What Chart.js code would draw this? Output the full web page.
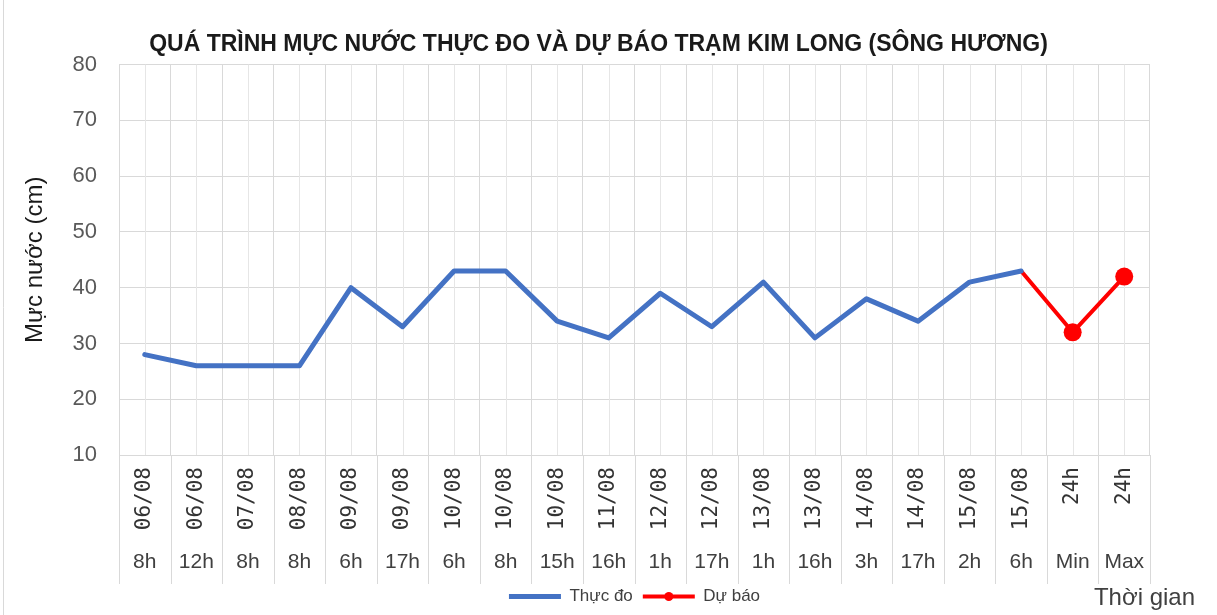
<!DOCTYPE html>
<html lang="vi">
<head>
<meta charset="utf-8">
<title>Mực nước trạm Kim Long</title>
<script src="https://cdn.jsdelivr.net/npm/chart.js@4.4.1/dist/chart.umd.min.js"></script>
<style>
    html, body { margin: 0; padding: 0; background: #ffffff; }
    #wrap { position: relative; width: 1217px; height: 615px; }
</style>
</head>
<body>
<div id="wrap"><canvas id="level-chart"></canvas></div>
<script>
// Chart data
const dates = ['06/08', '06/08', '07/08', '08/08', '09/08', '09/08', '10/08', '10/08', '10/08', '11/08',
               '12/08', '12/08', '13/08', '13/08', '14/08', '14/08', '15/08', '15/08', '24h', '24h'];
const hours = ['8h', '12h', '8h', '8h', '6h', '17h', '6h', '8h', '15h', '16h',
               '1h', '17h', '1h', '16h', '3h', '17h', '2h', '6h', 'Min', 'Max'];
const observed = [28, 26, 26, 26, 40, 33, 43, 43, 34, 31, 39, 33, 41, 31, 38, 34, 41, 43, null, null];
const forecast = [null, null, null, null, null, null, null, null, null, null,
                  null, null, null, null, null, null, null, 43, 32, 42];
const yMin = 10;
const yMax = 80;
const yStep = 10;

const GRID = '#d9d9d9';
const TEXT = '#595959';

/**
 * Extra drawing: centre grid lines, label separators, legend dot, axis caption
 */
const excelLook = {
    id: 'excelLook',
    beforeDatasetsDraw(chart) {
        const ctx = chart.ctx;
        const x = chart.scales.x;
        const area = chart.chartArea;
        ctx.save();
        ctx.strokeStyle = '#e6e6e6';
        ctx.lineWidth = 1;
        dates.forEach((d, i) => {
            const px = Math.round(x.getPixelForValue(i)) + 0.5;
            ctx.beginPath();
            ctx.moveTo(px, area.top);
            ctx.lineTo(px, area.bottom);
            ctx.stroke();
        });
        ctx.restore();
    },
    afterDraw(chart) {
        const ctx = chart.ctx;
        const x = chart.scales.x;
        const x2 = chart.scales.x2;
        const area = chart.chartArea;
        const half = (x.getPixelForValue(1) - x.getPixelForValue(0)) / 2;

        ctx.save();
        // separators between the category labels
        ctx.strokeStyle = GRID;
        ctx.lineWidth = 1;
        for (let i = 0; i <= dates.length; i++) {
            const px = Math.round(x.getPixelForValue(i) - half) + 0.5;
            ctx.beginPath();
            ctx.moveTo(px, area.bottom);
            ctx.lineTo(px, x2.bottom + 6);
            ctx.stroke();
        }

        // frame line on the left
        ctx.beginPath();
        ctx.moveTo(3.5, 0);
        ctx.lineTo(3.5, chart.height);
        ctx.stroke();

        // marker on the forecast legend line
        const boxes = chart.legend.legendHitBoxes;
        if (boxes && boxes[1]) {
            const b = boxes[1];
            ctx.fillStyle = '#ff0000';
            ctx.beginPath();
            ctx.arc(b.left + 26, b.top + b.height / 2, 4.5, 0, Math.PI * 2);
            ctx.fill();
        }

        // x axis caption
        ctx.fillStyle = '#404040';
        ctx.font = '24px "Liberation Sans", Arial, sans-serif';
        ctx.textAlign = 'right';
        ctx.textBaseline = 'middle';
        ctx.fillText('Thời gian', chart.width - 22, 598);
        ctx.restore();
    }
};

/**
 * Initialize chart
 */
function initializeChart() {
    const ctx = document.getElementById('level-chart').getContext('2d');

    new Chart(ctx, {
        type: 'line',
        data: {
            labels: dates,
            datasets: [{
                label: 'Thực đo',
                data: observed,
                borderColor: '#4472c4',
                backgroundColor: '#4472c4',
                borderWidth: 5,
                borderJoinStyle: 'round',
                borderCapStyle: 'round',
                pointRadius: 0,
                tension: 0,
                spanGaps: false
            }, {
                label: 'Dự báo',
                data: forecast,
                borderColor: '#ff0000',
                backgroundColor: '#ff0000',
                borderWidth: 4,
                borderJoinStyle: 'round',
                pointRadius: forecast.map((v, i) => i >= 18 ? 9 : 0),
                pointBorderWidth: 0,
                tension: 0
            }]
        },
        options: {
            responsive: true,
            maintainAspectRatio: false,
            animation: false,
            layout: {
                padding: { left: 0, right: 20, top: 0, bottom: 0 }
            },
            plugins: {
                title: {
                    display: true,
                    text: 'QUÁ TRÌNH MỰC NƯỚC THỰC ĐO VÀ DỰ BÁO TRẠM KIM LONG (SÔNG HƯƠNG)',
                    color: '#1a1a1a',
                    font: { family: '"Liberation Sans", Arial, sans-serif', size: 23, weight: 'bold' },
                    padding: { top: 31, bottom: 6 }
                },
                legend: {
                    position: 'bottom',
                    fullSize: false,
                    labels: {
                        color: '#404040',
                        font: { family: '"Liberation Sans", Arial, sans-serif', size: 17 },
                        usePointStyle: true,
                        pointStyleWidth: 52,
                        padding: 10,
                        generateLabels(chart) {
                            const items = Chart.defaults.plugins.legend.labels.generateLabels(chart);
                            items.forEach(item => {
                                const ds = chart.data.datasets[item.datasetIndex];
                                item.pointStyle = 'line';
                                item.lineWidth = ds.borderWidth;
                                item.strokeStyle = ds.borderColor;
                            });
                            return items;
                        }
                    }
                },
                tooltip: { enabled: false }
            },
            scales: {
                x: {
                    type: 'category',
                    offset: true,
                    weight: 0,
                    grid: { offset: true, color: GRID, drawTicks: false },
                    border: { color: GRID },
                    ticks: {
                        color: '#333333',
                        font: { family: '"DejaVu Sans Mono", monospace', size: 21 },
                        minRotation: 90,
                        maxRotation: 90,
                        autoSkip: false,
                        padding: 12
                    },
                    afterFit(scale) { scale.height = 90; }
                },
                x2: {
                    type: 'category',
                    labels: hours,
                    position: 'bottom',
                    offset: true,
                    weight: 1,
                    grid: { display: false, drawTicks: false },
                    border: { display: false },
                    ticks: {
                        color: '#404040',
                        font: { family: '"Liberation Sans", Arial, sans-serif', size: 21 },
                        maxRotation: 0,
                        autoSkip: false,
                        padding: 5
                    },
                    afterFit(scale) { scale.height = 33; }
                },
                y: {
                    min: yMin,
                    max: yMax,
                    grid: { color: GRID, drawTicks: false },
                    border: { color: GRID },
                    ticks: {
                        stepSize: yStep,
                        color: TEXT,
                        font: { family: '"Liberation Sans", Arial, sans-serif', size: 22 },
                        padding: 22
                    },
                    title: {
                        display: true,
                        text: 'Mực nước (cm)',
                        color: '#1a1a1a',
                        font: { family: '"Liberation Sans", Arial, sans-serif', size: 24 },
                        padding: { top: 21, bottom: 0 }
                    },
                    afterFit(scale) { scale.width = 119; }
                },
                yRight: {
                    position: 'right',
                    display: true,
                    grid: { display: false, drawTicks: false },
                    border: { display: false },
                    ticks: { display: false },
                    afterFit(scale) { scale.width = 47; }
                }
            }
        },
        plugins: [excelLook]
    });
}

document.addEventListener('DOMContentLoaded', initializeChart);
</script>
</body>
</html>
